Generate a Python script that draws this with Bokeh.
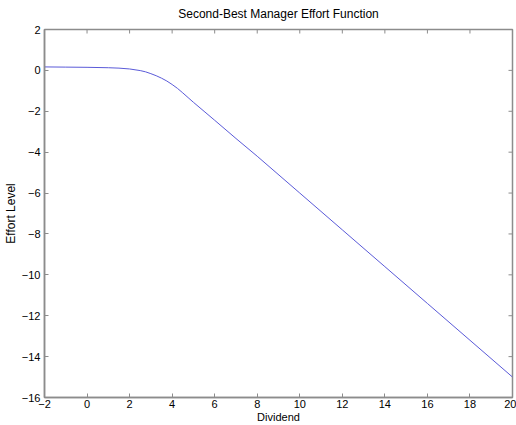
import math
from bokeh.plotting import figure
from bokeh.models import Range1d, FixedTicker
from bokeh.embed import file_html
from bokeh.resources import INLINE

dividend = [-2, -1, 0, 1, 1.5, 2, 2.5, 2.75, 3, 3.25, 3.5, 3.75, 4, 4.25, 4.5, 4.75, 5,
            5.5, 6, 7, 8, 10, 12, 14, 16, 18, 20]
effort = [0.17, 0.16, 0.15, 0.13, 0.11, 0.07, -0.01, -0.07, -0.16, -0.26, -0.38, -0.52,
          -0.69, -0.88, -1.1, -1.33, -1.56, -2.0, -2.44, -3.33, -4.2, -6.0, -7.8, -9.6,
          -11.4, -13.2, -15.0]
x_ticks = list(range(-2, 21, 2))
y_ticks = list(range(-16, 3, 2))
x_min, x_max = -2, 20
y_min, y_max = -16, 2

FONT = "Liberation Sans"
AXIS_COLOR = "#8c8c8c"

p = figure(width=516, height=425, output_backend="svg", toolbar_location=None,
           x_range=Range1d(x_min, x_max), y_range=Range1d(y_min, y_max),
           title="Second-Best Manager Effort Function",
           min_border_left=43, min_border_right=4, min_border_top=29, min_border_bottom=27)

p.line(dividend, effort, line_color="#5a5ad8", line_width=1)

# inward box ticks on top and right edges
p.ray(x=x_ticks, y=[y_max] * len(x_ticks), length=4, length_units="screen",
      angle=-math.pi / 2, line_color=AXIS_COLOR, line_width=1)
p.ray(x=[x_max] * len(y_ticks), y=y_ticks, length=4, length_units="screen",
      angle=math.pi, line_color=AXIS_COLOR, line_width=1)

p.title.align = "center"
p.title.vertical_align = "top"
p.title.text_font = FONT
p.title.text_font_size = "12px"
p.title.text_font_style = "normal"
p.title.text_color = "black"
p.title.standoff = 13

p.xgrid.visible = False
p.ygrid.visible = False
p.outline_line_color = AXIS_COLOR
p.outline_line_width = 1.5
p.background_fill_color = "white"
p.border_fill_color = "white"

for ax, ticks in ((p.xaxis[0], x_ticks), (p.yaxis[0], y_ticks)):
    ax.ticker = FixedTicker(ticks=ticks)
    ax.major_tick_in = 4
    ax.major_tick_out = 0
    ax.minor_tick_line_color = None
    ax.axis_line_color = AXIS_COLOR
    ax.axis_line_width = 1.5
    ax.major_tick_line_color = AXIS_COLOR
    ax.major_label_text_font = FONT
    ax.major_label_text_font_size = "11px"
    ax.major_label_text_color = "black"
    ax.axis_label_text_font = FONT
    ax.axis_label_text_font_style = "normal"
    ax.axis_label_text_color = "black"

p.xaxis[0].axis_label = "Dividend"
p.xaxis[0].axis_label_text_font_size = "11px"
p.xaxis[0].major_label_standoff = 2
p.xaxis[0].axis_label_standoff = 0
p.yaxis[0].axis_label = "Effort Level"
p.yaxis[0].axis_label_text_font_size = "12px"
p.yaxis[0].major_label_standoff = 4
p.yaxis[0].axis_label_standoff = 1

open("out.html", "w").write(file_html(p, INLINE))
